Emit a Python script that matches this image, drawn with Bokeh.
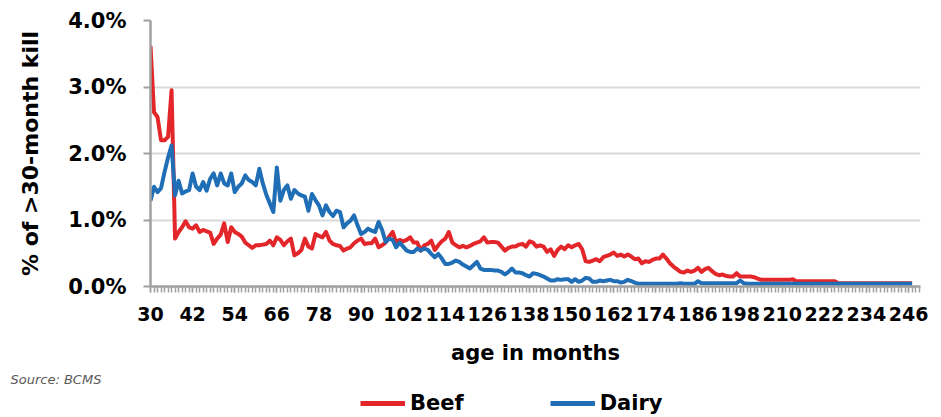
from bokeh.plotting import figure
from bokeh.layouts import column
from bokeh.models import (Range1d, FixedTicker, PrintfTickFormatter, Legend,
                          LegendItem, Title)
from bokeh.embed import file_html
from bokeh.resources import INLINE

months = list(range(30, 248))

beef = [
    3.62, 2.62, 2.55, 2.20, 2.20, 2.25, 2.95, 0.72, 0.82, 0.89,
    0.98, 0.89, 0.87, 0.92, 0.82, 0.85, 0.83, 0.81, 0.64, 0.72,
    0.78, 0.95, 0.67, 0.89, 0.82, 0.79, 0.75, 0.66, 0.62, 0.58,
    0.62, 0.62, 0.63, 0.64, 0.69, 0.62, 0.74, 0.70, 0.62, 0.68,
    0.72, 0.47, 0.50, 0.55, 0.72, 0.60, 0.57, 0.79, 0.76, 0.74,
    0.82, 0.69, 0.64, 0.62, 0.61, 0.54, 0.57, 0.59, 0.65, 0.69,
    0.72, 0.64, 0.65, 0.65, 0.72, 0.59, 0.62, 0.66, 0.75, 0.82,
    0.66, 0.70, 0.68, 0.70, 0.74, 0.66, 0.66, 0.54, 0.62, 0.64,
    0.69, 0.55, 0.62, 0.68, 0.72, 0.82, 0.66, 0.62, 0.59, 0.61,
    0.59, 0.61, 0.64, 0.66, 0.68, 0.74, 0.66, 0.67, 0.67, 0.66,
    0.60, 0.54, 0.58, 0.60, 0.60, 0.63, 0.64, 0.60, 0.68, 0.66,
    0.60, 0.62, 0.60, 0.52, 0.56, 0.46, 0.55, 0.60, 0.56, 0.62,
    0.59, 0.62, 0.64, 0.56, 0.38, 0.37, 0.39, 0.41, 0.38, 0.44,
    0.46, 0.48, 0.51, 0.46, 0.48, 0.45, 0.48, 0.45, 0.41, 0.42,
    0.35, 0.38, 0.37, 0.40, 0.42, 0.42, 0.48, 0.42, 0.35, 0.30,
    0.26, 0.22, 0.21, 0.24, 0.22, 0.24, 0.28, 0.22, 0.26, 0.28,
    0.23, 0.19, 0.17, 0.18, 0.16, 0.15, 0.15, 0.20, 0.15, 0.15,
    0.15, 0.15, 0.14, 0.12, 0.10, 0.10, 0.10, 0.10, 0.10, 0.10,
    0.10, 0.10, 0.10, 0.11, 0.08, 0.08, 0.08, 0.08, 0.08, 0.08,
    0.08, 0.08, 0.08, 0.08, 0.08, 0.08, 0.05, 0.05, 0.05, 0.05,
    0.05, 0.05, 0.05, 0.05, 0.05, 0.05, 0.05, 0.05, 0.05, 0.05,
    0.05, 0.05, 0.05, 0.05, 0.05, 0.05, 0.05, 0.05,
]

dairy = [
    1.29, 1.50, 1.42, 1.48, 1.72, 1.94, 2.12, 1.37, 1.59, 1.40,
    1.43, 1.45, 1.70, 1.50, 1.45, 1.57, 1.44, 1.62, 1.70, 1.52,
    1.70, 1.55, 1.52, 1.70, 1.42, 1.50, 1.55, 1.67, 1.60, 1.57,
    1.52, 1.77, 1.55, 1.38, 1.25, 1.12, 1.79, 1.29, 1.45, 1.52,
    1.32, 1.45, 1.40, 1.37, 1.35, 1.14, 1.39, 1.30, 1.22, 1.07,
    1.22, 1.12, 1.06, 1.14, 1.12, 0.89, 0.95, 0.99, 1.07, 0.92,
    0.79, 0.82, 0.87, 0.84, 0.82, 0.97, 0.85, 0.67, 0.72, 0.70,
    0.59, 0.66, 0.60, 0.54, 0.52, 0.52, 0.57, 0.54, 0.57, 0.55,
    0.49, 0.44, 0.49, 0.42, 0.34, 0.34, 0.36, 0.39, 0.37, 0.33,
    0.30, 0.27, 0.32, 0.37, 0.27, 0.25, 0.25, 0.25, 0.24, 0.24,
    0.22, 0.18, 0.22, 0.27, 0.21, 0.21, 0.20, 0.17, 0.15, 0.20,
    0.19, 0.17, 0.15, 0.12, 0.09, 0.09, 0.11, 0.10, 0.11, 0.11,
    0.07, 0.11, 0.07, 0.09, 0.13, 0.12, 0.07, 0.07, 0.09, 0.08,
    0.09, 0.10, 0.08, 0.08, 0.06, 0.07, 0.10, 0.08, 0.06, 0.04,
    0.04, 0.04, 0.04, 0.04, 0.04, 0.04, 0.04, 0.04, 0.04, 0.04,
    0.04, 0.05, 0.04, 0.04, 0.04, 0.04, 0.08, 0.05, 0.05, 0.05,
    0.05, 0.05, 0.05, 0.05, 0.05, 0.05, 0.05, 0.05, 0.09, 0.05,
    0.04, 0.04, 0.04, 0.04, 0.04, 0.04, 0.04, 0.04, 0.04, 0.04,
    0.04, 0.04, 0.04, 0.04, 0.04, 0.04, 0.04, 0.04, 0.04, 0.04,
    0.04, 0.04, 0.04, 0.04, 0.04, 0.04, 0.04, 0.04, 0.04, 0.04,
    0.04, 0.04, 0.04, 0.04, 0.04, 0.04, 0.04, 0.04, 0.04, 0.04,
    0.04, 0.04, 0.04, 0.04, 0.04, 0.04, 0.04, 0.04,
]

x_label_ticks = [30, 42, 54, 66, 78, 90, 102, 114, 126, 138, 150, 162, 174,
                 186, 198, 210, 222, 234, 246]
y_ticks = [0, 1, 2, 3, 4]
series_names = ["Beef", "Dairy"]
series_colors = ["#E3262A", "#1F6EB6"]

FONT = "DejaVu Sans"
AXIS_GREY = "#A0A0A0"

# ---------------- main chart ----------------
p = figure(width=935, height=390, output_backend="svg", toolbar_location=None,
           x_range=Range1d(30, 249.4), y_range=Range1d(0, 4),
           min_border_left=150, min_border_right=15, min_border_top=20,
           min_border_bottom=104)
p.outline_line_color = None

p.line(months, beef, line_color=series_colors[0], line_width=4, line_join="round")
p.line(months, dairy, line_color=series_colors[1], line_width=4, line_join="round")

p.xgrid.visible = False
p.ygrid.grid_line_color = "#D9D9D9"
p.ygrid.grid_line_width = 2
p.ygrid.ticker = FixedTicker(ticks=y_ticks)

xa = p.xaxis[0]
xa.ticker = FixedTicker(ticks=x_label_ticks, minor_ticks=months + [248, 249])
xa.axis_line_color = AXIS_GREY
xa.axis_line_width = 2.5
xa.major_tick_line_color = AXIS_GREY
xa.minor_tick_line_color = AXIS_GREY
xa.major_tick_line_width = 1.5
xa.minor_tick_line_width = 1.5
xa.major_tick_in = 0
xa.major_tick_out = 6
xa.minor_tick_in = 0
xa.minor_tick_out = 6
xa.major_label_standoff = 14
xa.major_label_text_font = FONT
xa.major_label_text_font_style = "bold"
xa.major_label_text_font_size = "19px"
xa.major_label_text_color = "black"
xa.axis_label = "age in months"
xa.axis_label_text_font = FONT
xa.axis_label_text_font_style = "bold"
xa.axis_label_text_font_size = "21px"
xa.axis_label_text_color = "black"
xa.axis_label_standoff = 17

ya = p.yaxis[0]
ya.ticker = FixedTicker(ticks=y_ticks)
ya.formatter = PrintfTickFormatter(format="%.1f%%")
ya.axis_line_color = AXIS_GREY
ya.axis_line_width = 2.5
ya.major_tick_line_color = AXIS_GREY
ya.major_tick_line_width = 2
ya.major_tick_in = 0
ya.major_tick_out = 7
ya.minor_tick_line_color = None
ya.major_label_standoff = 17
ya.major_label_text_font = FONT
ya.major_label_text_font_style = "bold"
ya.major_label_text_font_size = "21px"
ya.major_label_text_color = "black"
ya.axis_label = "% of >30-month kill"
ya.axis_label_text_font = FONT
ya.axis_label_text_font_style = "bold"
ya.axis_label_text_font_size = "22px"
ya.axis_label_text_color = "black"
ya.axis_label_standoff = 22

# source note, below the x-axis title
src = Title(text="Source: BCMS", align="left", offset=-140, standoff=5,
            text_font=FONT, text_font_style="italic", text_font_size="13px",
            text_color="#595959")
p.add_layout(src, "below")

# ---------------- footer: legend ----------------
f = figure(width=935, height=25, output_backend="svg", toolbar_location=None,
           x_axis_type=None, y_axis_type=None, x_range=Range1d(0, 1),
           y_range=Range1d(0, 1), min_border=0)
f.outline_line_color = None
# legend proxies: same series, but outside this strip's ranges (not visible)
proxy_beef = f.line(months, beef, line_color=series_colors[0], line_width=5)
proxy_dairy = f.line(months, dairy, line_color=series_colors[1], line_width=5)

legend = Legend(items=[LegendItem(label=series_names[0], renderers=[proxy_beef]),
                       LegendItem(label=series_names[1], renderers=[proxy_dairy])],
                orientation="horizontal", location=(210, 0),
                glyph_width=45, glyph_height=18, label_standoff=5, spacing=86,
                padding=0, margin=0, border_line_color=None,
                background_fill_alpha=0,
                label_text_font=FONT, label_text_font_style="bold",
                label_text_font_size="21px", label_text_color="black")
f.add_layout(legend, "center")

layout = column(p, f, spacing=0)
open("out.html", "w").write(file_html(layout, INLINE))
